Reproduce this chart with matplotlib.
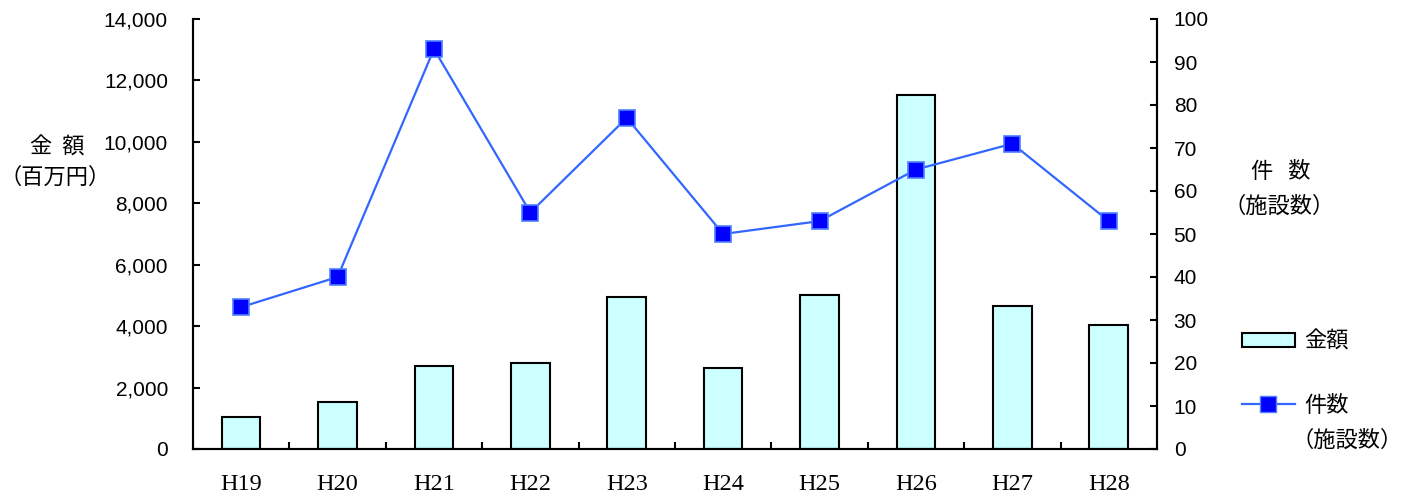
import numpy as np
import matplotlib
matplotlib.use("Agg")
from matplotlib import pyplot as plt
from matplotlib.ticker import FuncFormatter, FixedLocator
from matplotlib.lines import Line2D
from matplotlib.patches import Patch

years = ["H19", "H20", "H21", "H22", "H23", "H24", "H25", "H26", "H27", "H28"]
amount = [1050, 1530, 2710, 2790, 4940, 2650, 5000, 11520, 4670, 4040]
count = [33, 40, 93, 55, 77, 50, 53, 65, 71, 53]

jp = ["Noto Sans CJK JP", "DejaVu Sans"]
num = "Liberation Sans"

fig = plt.figure(figsize=(14.21, 5.0), dpi=100)
ax = fig.add_axes([0.1358, 0.102, 0.6784, 0.86])
ax2 = ax.twinx()

x = np.arange(len(years))
ax.bar(x, amount, width=0.4, color="#CCFFFF", edgecolor="black", linewidth=1.5, zorder=2)
ax2.plot(x, count, color="#3366FF", linewidth=1.6, marker="s", markersize=11,
         markerfacecolor="#0000FF", markeredgecolor="#4D7FFF", markeredgewidth=1.2)

ax.set_xlim(-0.5, len(years) - 0.5)
ax.set_ylim(0, 14000)
ax2.set_ylim(0, 100)
ax.set_yticks(np.arange(0, 14001, 2000))
ax2.set_yticks(np.arange(0, 101, 10))
ax.yaxis.set_major_formatter(FuncFormatter(lambda v, p: f"{int(v):,}"))

ax.set_xticks(x)
ax.set_xticklabels(years, family="Liberation Serif", fontsize=17.5)
ax.xaxis.set_minor_locator(FixedLocator(np.arange(0.5, len(years) - 1, 1.0)))
ax.tick_params(axis="x", which="major", length=0, pad=18)
ax.tick_params(axis="x", which="minor", direction="in", length=5, width=1.5)
ax.tick_params(axis="y", direction="in", length=5, width=1.5, labelsize=15, pad=18)
ax2.tick_params(axis="y", direction="in", length=5, width=1.5, labelsize=15, pad=12)
for lab in ax.get_yticklabels() + ax2.get_yticklabels():
    lab.set_family(num)

for a in (ax, ax2):
    for s in a.spines.values():
        s.set_linewidth(1.5)
ax.spines["top"].set_visible(False)
ax2.spines["top"].set_visible(False)

fig.text(0.040, 0.705, "金  額", family=jp, fontsize=16, ha="center", va="center")
fig.text(0.039, 0.645, "（百万円）", family=jp, fontsize=16, ha="center", va="center")
fig.text(0.901, 0.657, "件   数", family=jp, fontsize=16, ha="center", va="center")
fig.text(0.900, 0.588, "（施設数）", family=jp, fontsize=16, ha="center", va="center")

handles = [Patch(facecolor="#CCFFFF", edgecolor="black", linewidth=1.5),
           Line2D([], [], color="#3366FF", linewidth=1.6, marker="s", markersize=11,
                  markerfacecolor="#0000FF", markeredgecolor="#4D7FFF")]
fig.legend(handles, ["金額", "件数"], loc="upper left", bbox_to_anchor=(0.866, 0.363),
           frameon=False, prop={"family": jp, "size": 16}, handlelength=2.4,
           handleheight=0.6, labelspacing=1.85, handletextpad=0.4, borderpad=0)
fig.text(0.909, 0.12, "（施設数）", family=jp, fontsize=16, ha="left", va="center")

fig.savefig("out.png", dpi=100)
